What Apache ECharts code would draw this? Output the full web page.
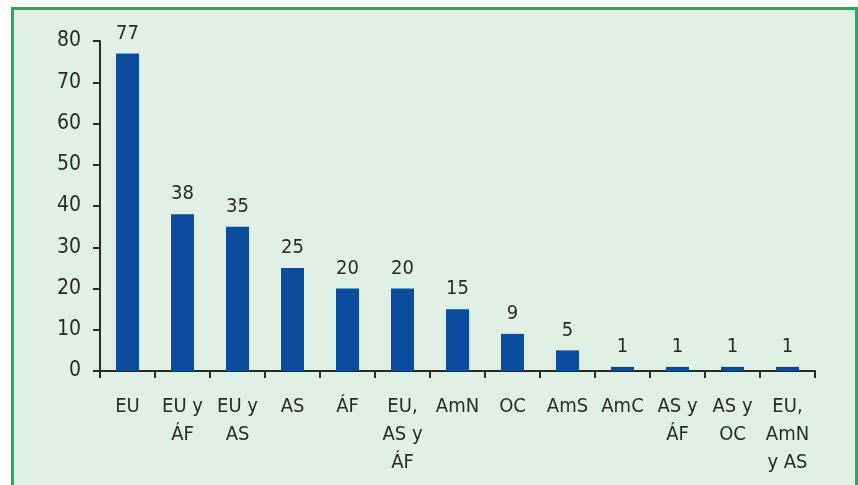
<!DOCTYPE html>
<html>
<head>
<meta charset="utf-8">
<script src="https://cdn.jsdelivr.net/npm/echarts@6/dist/echarts.min.js"></script>
<style>
	html, body { margin: 0; padding: 0; background: #fff; overflow: hidden; }
	#box {
		position: absolute; left: 11px; top: 7px; width: 847px; height: 490px;
		box-sizing: border-box; background: #e1f0e5;
		border: 3px solid #1eae5c; border-bottom: none;
	}
	#chart { position: absolute; left: 0; top: 0; width: 858px; height: 485px; }
</style>
</head>
<body>
<div id="box"></div>
<div id="chart"></div>
<script>
// regions (abbreviated, as in the source figure)
const categories = ["EU", "EU y\nÁF", "EU y\nAS", "AS", "ÁF", "EU,\nAS y\nÁF", "AmN", "OC", "AmS", "AmC", "AS y\nÁF", "AS y\nOC", "EU,\nAmN\ny AS"];
const counts = [77, 38, 35, 25, 20, 20, 15, 9, 5, 1, 1, 1, 1];
const yTicks = { min: 0, max: 80, step: 10 };

const font = "DejaVu Sans Condensed, DejaVu Sans, sans-serif";
const ink = "#2a2a2a";

const chart = echarts.init(document.getElementById("chart"), null, { renderer: "canvas" });
chart.setOption({
	animation: false,
	backgroundColor: "transparent",
	grid: { left: 100, top: 41, right: 43, bottom: 114 },
	xAxis: {
		type: "category",
		data: categories,
		boundaryGap: true,
		axisLine: { lineStyle: { color: ink, width: 2 } },
		axisTick: { show: true, length: 7, alignWithLabel: false, lineStyle: { color: ink, width: 2 } },
		axisLabel: { color: ink, fontFamily: font, fontSize: 20, lineHeight: 28, margin: 22, interval: 0 }
	},
	yAxis: {
		type: "value",
		min: yTicks.min,
		max: yTicks.max,
		interval: yTicks.step,
		splitLine: { show: false },
		axisLine: { show: true, lineStyle: { color: ink, width: 2 } },
		axisTick: { show: true, length: 7, lineStyle: { color: ink, width: 2 } },
		axisLabel: { color: ink, fontFamily: font, fontSize: 21, margin: 19 }
	},
	series: [{
		type: "bar",
		data: counts,
		barWidth: 23,
		itemStyle: { color: "#0b4c9e" },
		label: { show: true, position: "top", distance: 10, color: ink, fontFamily: font, fontSize: 20 }
	}]
});
</script>
</body>
</html>
